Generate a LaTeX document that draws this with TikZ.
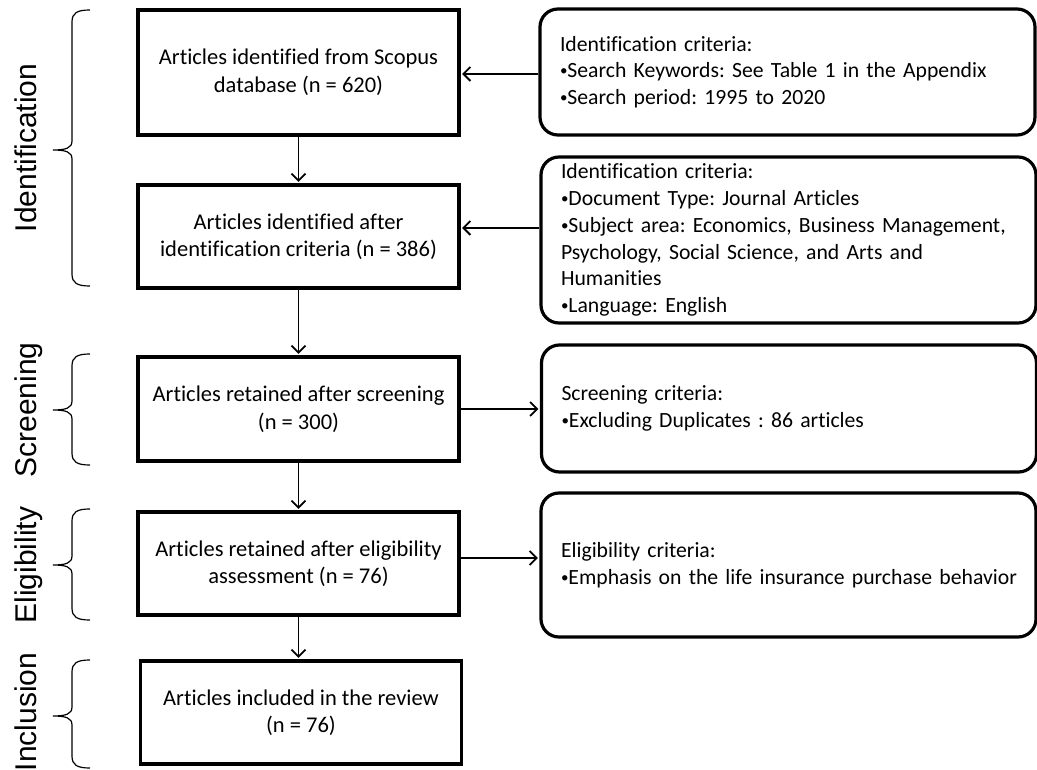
\documentclass[tikz,border=0pt]{standalone}
\usepackage{fontspec}
\setmainfont{Carlito}[Ligatures={NoCommon}]
\newfontfamily\labelfont{Liberation Sans}
\usetikzlibrary{arrows.meta}
\newcommand\bul{\raisebox{1.8pt}{\fontsize{15}{15}\selectfont •}}
\begin{document}
\frenchspacing
\begin{tikzpicture}[x=1pt,y=-1pt,
  box/.style={draw, line width=3.4pt, align=center, inner sep=0pt,
    minimum width=321pt, font=\fontsize{22.5}{27.5}\selectfont\frenchspacing},
  rbox/.style={draw, line width=3.2pt, rounded corners=18pt, align=left,
    inner sep=0pt, text width=455pt, minimum width=495pt,
    font=\fontsize{21.7}{26.7}\selectfont\frenchspacing},
  arr/.style={-{Straight Barb[length=7pt,width=14pt]}, line width=1.8pt, shorten >=1.5pt},
  brace/.style={line width=1.2pt},
  stage/.style={font=\labelfont\fontsize{30}{30}\selectfont, rotate=90, anchor=base}]
\useasboundingbox (0,0) rectangle (1037,770);

% left boxes
\node[box, minimum height=125pt] (b1) at (298.5,72.5) {Articles identified from Scopus\\database (n = 620)};
\node[box, minimum height=103pt] (b2) at (298.5,236.5) {Articles identified after\\identification criteria (n = 386)};
\node[box, minimum height=104pt] (b3) at (298.5,409) {Articles retained after screening\\(n = 300)};
\node[box, minimum height=103pt] (b4) at (298.5,563.5) {Articles retained after eligibility\\assessment (n = 76)};
\node[box, minimum height=103pt] (b5) at (301,712.5) {Articles included in the review\\(n = 76)};

% right boxes
\node[rbox, minimum height=126pt] (r1) at (787.5,72) {Identification criteria:\\\mbox{\bul Search Keywords: See Table 1 in the Appendix}\\\bul Search period: 1995 to 2020};
\node[rbox, minimum height=166pt] (r2) at (788.5,240) {Identification criteria:\\\bul Document Type: Journal Articles\\\mbox{\bul Subject area: Economics, Business Management,}\\Psychology, Social Science, and Arts and\\Humanities\\\bul Language: English};
\node[rbox, minimum height=127pt] (r3) at (789,408.5) {Screening criteria:\\\bul Excluding Duplicates : 86 articles};
\node[rbox, minimum height=144pt] (r4) at (788.5,565) {Eligibility criteria:\\\mbox{\bul Emphasis on the life insurance purchase behavior}};

% vertical arrows
\draw[arr] (b1.south) -- (b2.north);
\draw[arr] (b2.south) -- (b3.north);
\draw[arr] (b3.south) -- (b4.north);
\draw[arr] (b4.south) -- (b4.south |- b5.north);

% horizontal arrows
\coordinate (a1) at (0,74);
\coordinate (a2) at (0,228);
\coordinate (a3) at (0,409);
\coordinate (a4) at (0,558);
\draw[arr] (r1.west |- a1) -- (b1.east |- a1);
\draw[arr] (r2.west |- a2) -- (b2.east |- a2);
\draw[arr] (b3.east |- a3) -- (r3.west |- a3);
\draw[arr] (b4.east |- a4) -- (r4.west |- a4);

% braces
\foreach \T/\M/\B in {10/150/286, 354/410/465, 509/565/620, 660/716/768}{
  \draw[brace] (90,\T) .. controls (77,\T) and (72,\T+3) .. (72,\T+12)
    -- (72,\M-9) .. controls (72,\M-2) and (66,\M) .. (53,\M)
    .. controls (66,\M) and (72,\M+2) .. (72,\M+9)
    -- (72,\B-12) .. controls (72,\B-3) and (77,\B) .. (90,\B);
}

% stage labels
\node[stage] (sid) at (36,148) {Identification};
\node[stage] (ssc) at (36,410) {Screening};
\node[stage] (sel) at (36,565) {Eligibility};
\node[stage] (sin) at (36,712) {Inclusion};
\end{tikzpicture}
\end{document}
